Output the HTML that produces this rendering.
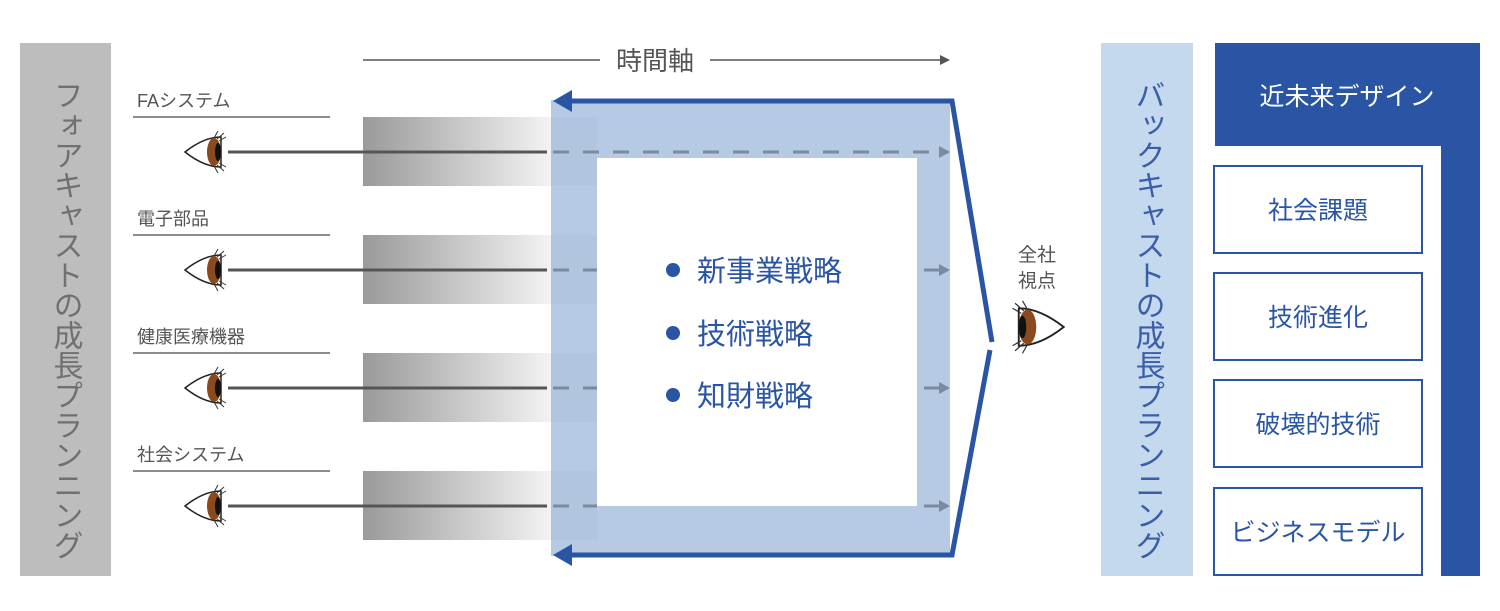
<!DOCTYPE html>
<html><head><meta charset="utf-8"><style>
body{margin:0;background:#fff;}
svg text{font-family:"Liberation Sans","Noto Sans CJK JP",sans-serif;}
</style></head><body>
<svg width="1500" height="606" viewBox="0 0 1500 606" xmlns="http://www.w3.org/2000/svg">
<defs>
<linearGradient id="g" x1="363" x2="553" y1="0" y2="0" gradientUnits="userSpaceOnUse">
<stop offset="0" stop-color="#9a9a9a"/><stop offset="1" stop-color="#f4f4f4"/>
</linearGradient>
<g id="eyeL">
<path d="M-27 0 Q-8 -15 9 -15 L9 15 Q-8 15 -27 0Z" fill="#fff" stroke="#222" stroke-width="1.5"/>
<ellipse cx="2" cy="0" rx="7" ry="14" fill="#8a4a1e"/>
<ellipse cx="6" cy="0" rx="3" ry="9" fill="#111"/>
<path d="M2 -14 L6 -21 M5 -13 L12 -19 M7 -11 L14 -15 M2 14 L6 21 M5 13 L12 19 M7 11 L14 15" stroke="#333" stroke-width="1"/>
</g>
</defs>
<rect x="20" y="43" width="91" height="533" fill="#bdbdbd"/>
<text x="65" y="80" font-size="30" fill="#707070" style="writing-mode:vertical-rl">フォアキャストの成長プランニング</text>
<line x1="363" y1="60" x2="600" y2="60" stroke="#555" stroke-width="1.5"/>
<line x1="710" y1="60" x2="944" y2="60" stroke="#555" stroke-width="1.5"/>
<path d="M950 60 L940 55 L940 65Z" fill="#555"/>
<text x="655" y="70" font-size="26" fill="#555" text-anchor="middle">時間軸</text>
<g font-size="18" fill="#555">
<text x="137" y="107">FAシステム</text>
<text x="137" y="225">電子部品</text>
<text x="137" y="343">健康医療機器</text>
<text x="137" y="461">社会システム</text>
</g>
<g stroke="#666" stroke-width="1.5">
<line x1="133" y1="117" x2="330" y2="117"/>
<line x1="133" y1="235" x2="330" y2="235"/>
<line x1="133" y1="353" x2="330" y2="353"/>
<line x1="133" y1="471" x2="330" y2="471"/>
</g>
<g fill="url(#g)">
<rect x="363" y="117" width="190" height="69"/>
<rect x="363" y="235" width="190" height="69"/>
<rect x="363" y="353" width="190" height="69"/>
<rect x="363" y="471" width="190" height="69"/>
</g>
<g fill="#f4f4f4">
<rect x="553" y="117" width="44" height="69"/>
<rect x="553" y="235" width="44" height="69"/>
<rect x="553" y="353" width="44" height="69"/>
<rect x="553" y="471" width="44" height="69"/>
</g>
<path d="M551 100 H950 V556 H551Z M597 158 V506 H917 V158Z" fill="rgba(110,150,200,0.5)" fill-rule="evenodd"/>
<g stroke="#555" stroke-width="3">
<line x1="228" y1="152" x2="547" y2="152"/>
<line x1="228" y1="270" x2="547" y2="270"/>
<line x1="228" y1="388" x2="547" y2="388"/>
<line x1="228" y1="506" x2="547" y2="506"/>
</g>
<g stroke="#7a8aa0" stroke-width="3" stroke-dasharray="16 14">
<line x1="553" y1="152" x2="940" y2="152"/>
<line x1="553" y1="270" x2="597" y2="270"/>
<line x1="553" y1="388" x2="597" y2="388"/>
<line x1="553" y1="506" x2="597" y2="506"/>
</g>
<g stroke="#7a8aa0" stroke-width="3">
<line x1="924" y1="270" x2="940" y2="270"/>
<line x1="924" y1="388" x2="940" y2="388"/>
<line x1="924" y1="506" x2="940" y2="506"/>
</g>
<g fill="#7a8aa0">
<path d="M950 152 L939 146 L939 158Z"/><path d="M950 270 L939 264 L939 276Z"/>
<path d="M950 388 L939 382 L939 394Z"/><path d="M950 506 L939 500 L939 512Z"/>
</g>
<use href="#eyeL" x="212" y="152"/>
<use href="#eyeL" x="212" y="270"/>
<use href="#eyeL" x="212" y="388"/>
<use href="#eyeL" x="212" y="506"/>
<path d="M568 101 H952 L992 342" fill="none" stroke="#2a55a5" stroke-width="5"/>
<path d="M568 555 H952 L990 350" fill="none" stroke="#2a55a5" stroke-width="5"/>
<path d="M553 101 L572 90 L572 112Z" fill="#2a55a5"/>
<path d="M553 555 L572 544 L572 566Z" fill="#2a55a5"/>
<g fill="#2a55a5">
<circle cx="673" cy="270" r="7"/><circle cx="673" cy="333" r="7"/><circle cx="673" cy="395" r="7"/>
<text x="697" y="281" font-size="29">新事業戦略</text>
<text x="697" y="344" font-size="29">技術戦略</text>
<text x="697" y="406" font-size="29">知財戦略</text>
</g>
<text x="1037" y="261" font-size="19" fill="#555" text-anchor="middle">全社</text>
<text x="1037" y="287" font-size="19" fill="#555" text-anchor="middle">視点</text>
<use href="#eyeL" transform="translate(1030 327) scale(-1.25 1.25)"/>
<rect x="1101" y="43" width="92" height="533" fill="#c5d9ee"/>
<text x="1147" y="80" font-size="30" fill="#3a5ea8" style="writing-mode:vertical-rl">バックキャストの成長プランニング</text>
<rect x="1215" y="43" width="265" height="103" fill="#2a55a5"/>
<rect x="1441" y="43" width="39" height="533" fill="#2a55a5"/>
<text x="1347" y="105" font-size="25" fill="#fff" text-anchor="middle">近未来デザイン</text>
<g fill="#fff" stroke="#2a55a5" stroke-width="2">
<rect x="1214" y="166" width="208" height="87"/>
<rect x="1214" y="273" width="208" height="87"/>
<rect x="1214" y="380" width="208" height="87"/>
<rect x="1214" y="488" width="208" height="87"/>
</g>
<g font-size="25" fill="#2a55a5" text-anchor="middle">
<text x="1318" y="219">社会課題</text>
<text x="1318" y="326">技術進化</text>
<text x="1318" y="433">破壊的技術</text>
<text x="1318" y="541">ビジネスモデル</text>
</g>
</svg>
</body></html>
